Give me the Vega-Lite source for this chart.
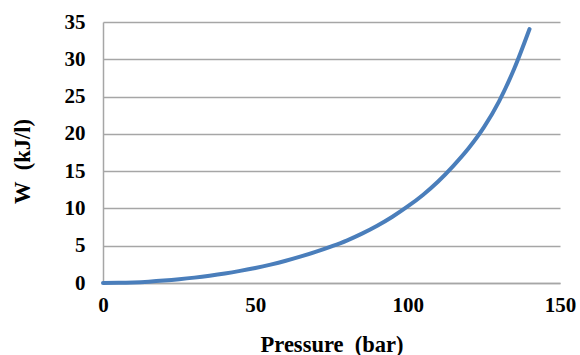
{
  "$schema": "https://vega.github.io/schema/vega-lite/v6.json",
  "width": 457,
  "height": 261,
  "autosize": {"type": "none"},
  "padding": {"left": 103, "top": 22, "right": 20, "bottom": 72},
  "background": "white",
  "config": {
    "view": {"stroke": null},
    "font": "Liberation Serif, Times New Roman, serif"
  },
  "data": {
    "values": [
      {"p": 0, "w": 0},
      {"p": 5, "w": 0.02},
      {"p": 10, "w": 0.08},
      {"p": 15, "w": 0.18},
      {"p": 20, "w": 0.32},
      {"p": 25, "w": 0.5},
      {"p": 30, "w": 0.72},
      {"p": 35, "w": 0.98},
      {"p": 40, "w": 1.28},
      {"p": 45, "w": 1.63},
      {"p": 50, "w": 2.02},
      {"p": 55, "w": 2.47},
      {"p": 60, "w": 2.98},
      {"p": 65, "w": 3.56},
      {"p": 70, "w": 4.2},
      {"p": 75, "w": 4.91},
      {"p": 80, "w": 5.69},
      {"p": 85, "w": 6.62},
      {"p": 90, "w": 7.68},
      {"p": 95, "w": 8.89},
      {"p": 100, "w": 10.26},
      {"p": 105, "w": 11.81},
      {"p": 110, "w": 13.61},
      {"p": 115, "w": 15.71},
      {"p": 120, "w": 18.06},
      {"p": 125, "w": 20.86},
      {"p": 130, "w": 24.36},
      {"p": 135, "w": 28.76},
      {"p": 140, "w": 34.06}
    ]
  },
  "mark": {"type": "line", "color": "#4A7EBB", "strokeWidth": 4, "strokeCap": "round", "interpolate": "monotone", "clip": false},
  "encoding": {
    "x": {
      "field": "p",
      "type": "quantitative",
      "scale": {"domain": [0, 150], "nice": false},
      "axis": {
        "values": [0, 50, 100, 150],
        "title": "Pressure\u00a0 (bar)",
        "grid": false,
        "ticks": false,
        "domainColor": "#A6A6A6",
        "domainWidth": 1.5,
        "labelFont": "Liberation Serif, Times New Roman, serif",
        "labelFontSize": 21,
        "labelFontWeight": "bold",
        "labelColor": "black",
        "labelPadding": 11,
        "labelFlush": false,
        "titleFont": "Liberation Serif, Times New Roman, serif",
        "titleFontSize": 22.5,
        "titleFontWeight": "bold",
        "titleColor": "black",
        "titleBaseline": "alphabetic",
        "titleY": 68
      }
    },
    "y": {
      "field": "w",
      "type": "quantitative",
      "scale": {"domain": [0, 35], "nice": false},
      "axis": {
        "values": [0, 5, 10, 15, 20, 25, 30, 35],
        "title": "W\u00a0\u00a0(kJ/l)",
        "grid": true,
        "gridColor": "#A6A6A6",
        "gridWidth": 1.5,
        "ticks": false,
        "domainColor": "#A6A6A6",
        "domainWidth": 1.5,
        "labelFont": "Liberation Serif, Times New Roman, serif",
        "labelFontSize": 21,
        "labelFontWeight": "bold",
        "labelColor": "black",
        "labelPadding": 18,
        "labelFlush": false,
        "titleFont": "Liberation Serif, Times New Roman, serif",
        "titleFontSize": 22.5,
        "titleFontWeight": "bold",
        "titleColor": "black",
        "titleAngle": -90,
        "titleAlign": "center",
        "titleBaseline": "middle",
        "titleX": -81,
        "titleY": 139
      }
    }
  }
}
